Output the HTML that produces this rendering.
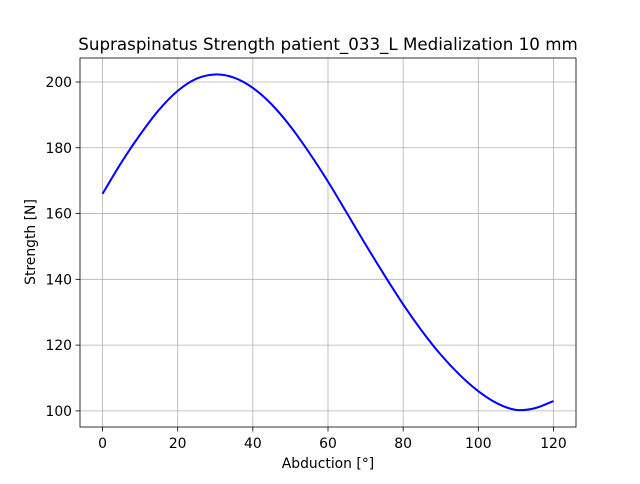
<!DOCTYPE html>
<html><head><meta charset="utf-8"><style>
body{margin:0;background:#fff;font-family:"DejaVu Sans","Liberation Sans",sans-serif}
svg text{fill:#000}
</style></head><body>
<svg width="640" height="480" viewBox="0 0 640 480">
<rect width="640" height="480" fill="#fff"/>
<g id="grid"></g>
<path id="line" fill="none" stroke="#0000ff" stroke-width="2"/>
<rect x="80" y="58" width="496" height="369" fill="none" stroke="#000" stroke-width="0.8"/>
<g id="ticks" font-size="13.9"></g>
<text x="328" y="50" font-size="16.7" text-anchor="middle">Supraspinatus Strength patient_033_L Medialization 10 mm</text>
<text x="328" y="468" font-size="13.9" text-anchor="middle">Abduction [°]</text>
<text x="35" y="242" font-size="13.9" text-anchor="middle" transform="rotate(-90 35 242)">Strength [N]</text>
</svg>
<script>
const xVals=[0,5,10,15,20,25,30,35,40,45,50,55,60,65,70,75,80,85,90,95,100,105,110,115,120];
const yVals=[166,175.5,184,191.5,197.3,201,202.3,201.3,198.2,193.2,186.5,178.5,169.7,160.2,150.6,141.3,132.4,124.3,117.1,111,106,102.3,100.3,100.8,103];
const xTicks=[0,20,40,60,80,100,120];
const yTicks=[100,120,140,160,180,200];
const X=v=>80+(v+6)*496/132;
const Y=v=>427-(v-95.1)*369/(207.3-95.1);
const ns="http://www.w3.org/2000/svg";
const g=document.getElementById('grid'),t=document.getElementById('ticks');
function mk(p,tag,a){const e=document.createElementNS(ns,tag);for(const k in a)e.setAttribute(k,a[k]);p.appendChild(e);return e;}
xTicks.forEach(v=>{const x=X(v);
 const l=mk(g,'line',{x1:x,x2:x,y1:58,y2:427,stroke:'#b0b0b0','stroke-width':0.8});
 
 
 mk(t,'line',{x1:x,x2:x,y1:427,y2:431.5,stroke:'#000','stroke-width':0.8});
 const tx=mk(t,'text',{x:x,y:448,'text-anchor':'middle'});tx.textContent=v;
 
 });
yTicks.forEach(v=>{const y=Y(v);
 const l=mk(g,'line',{x1:80,x2:576,y1:y,y2:y,stroke:'#b0b0b0','stroke-width':0.8});
 
 
 mk(t,'line',{x1:75.5,x2:80,y1:y,y2:y,stroke:'#000','stroke-width':0.8});
 const tx=mk(t,'text',{x:72,y:y+5,'text-anchor':'end'});tx.textContent=v;
 
 });
const P=xVals.map((v,i)=>[X(v),Y(yVals[i])]);
let d='M'+P[0][0]+','+P[0][1];
for(let i=0;i<P.length-1;i++){const p0=P[i-1]||P[i],p1=P[i],p2=P[i+1],p3=P[i+2]||P[i+1];
 d+=` C${p1[0]+(p2[0]-p0[0])/6},${p1[1]+(p2[1]-p0[1])/6} ${p2[0]-(p3[0]-p1[0])/6},${p2[1]-(p3[1]-p1[1])/6} ${p2[0]},${p2[1]}`;}
document.getElementById('line').setAttribute('d',d);
</script>
</body></html>
